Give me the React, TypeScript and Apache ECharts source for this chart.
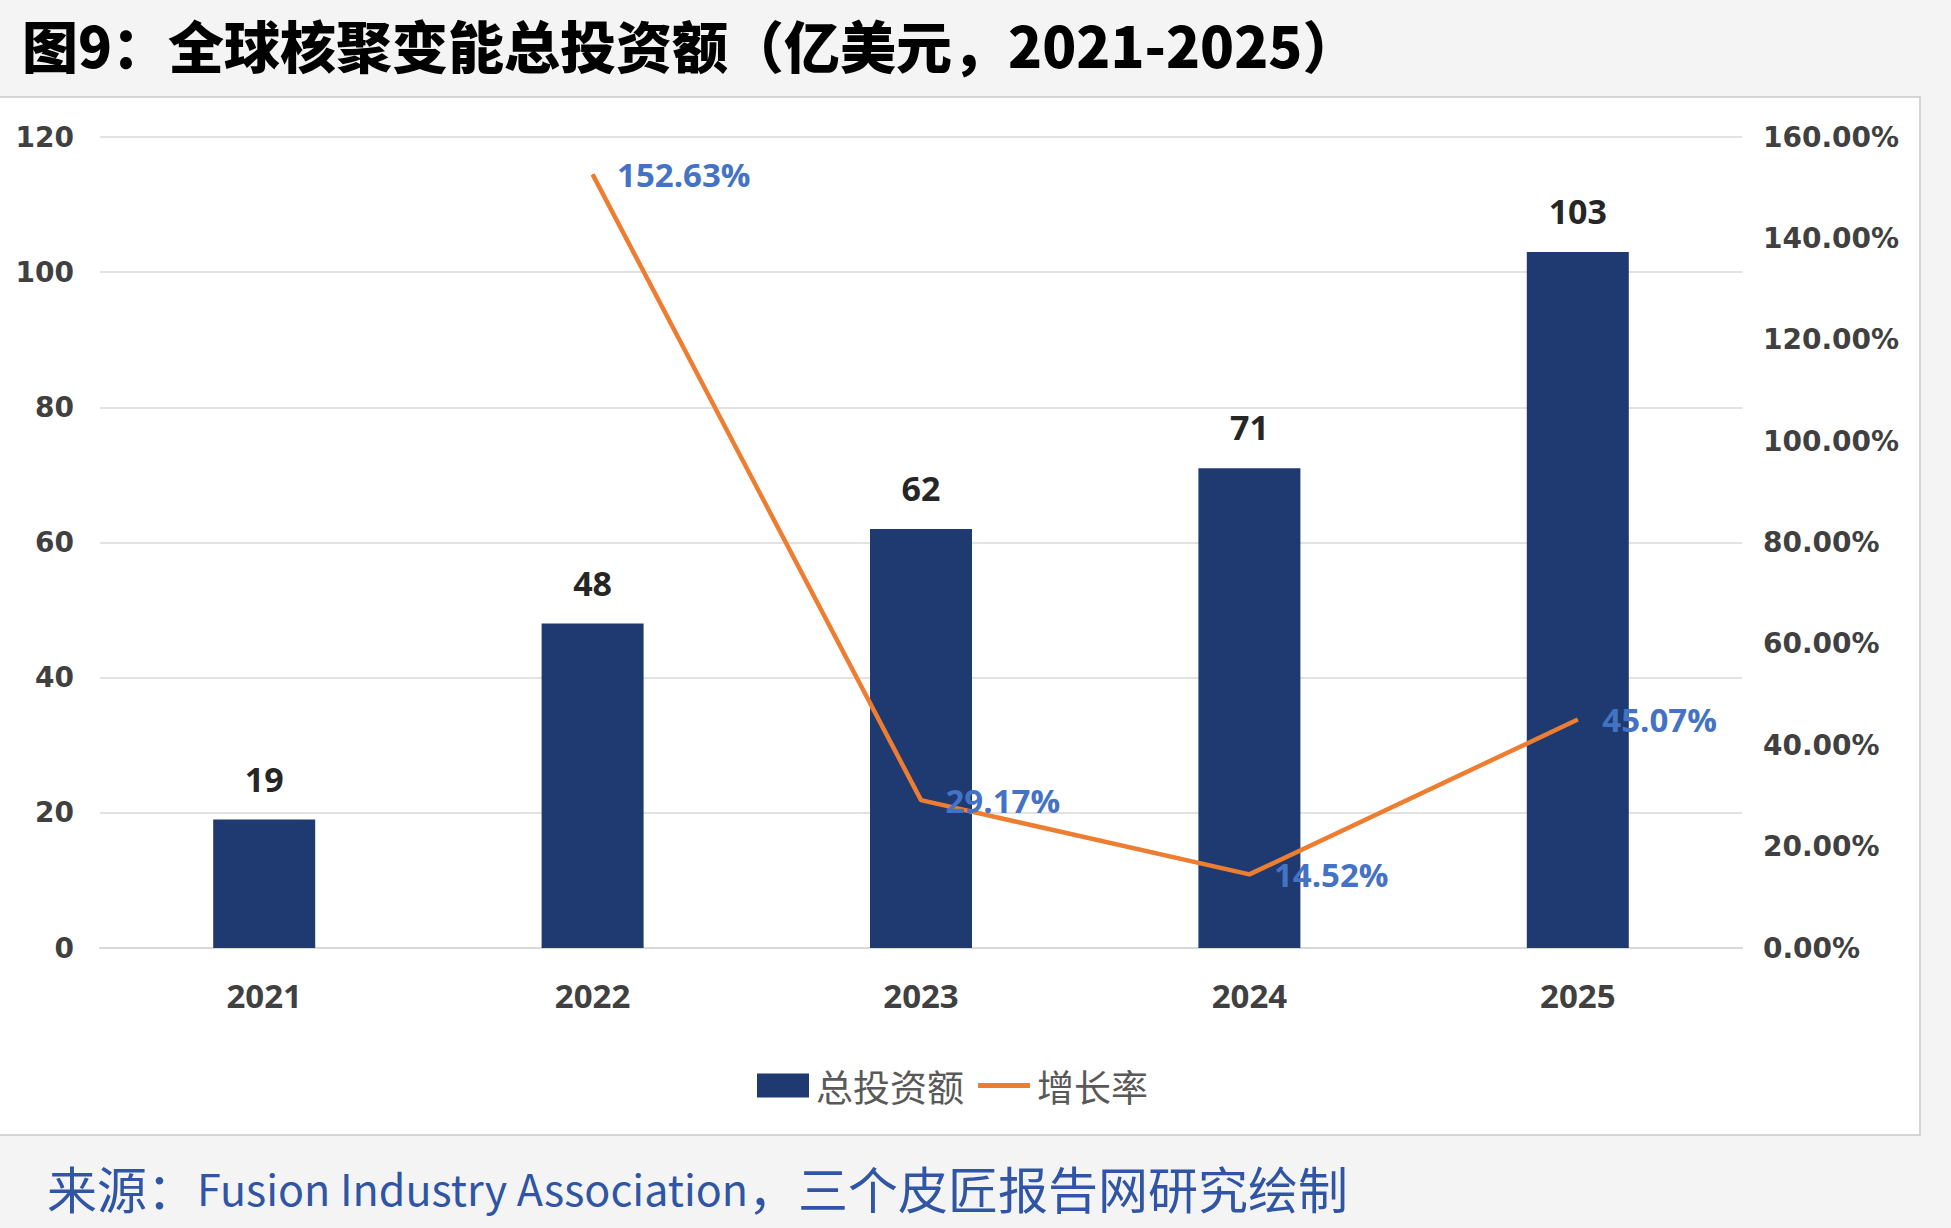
import React, { useEffect, useRef } from "react";
import * as echarts from "echarts";

// Fusion energy investment, 2021-2025
const years = ["2021", "2022", "2023", "2024", "2025"];
const investment = [19, 48, 62, 71, 103]; // 亿美元
const growth = [null, 152.63, 29.17, 14.52, 45.07]; // %

const leftTicks = { min: 0, max: 120, interval: 20 };
const rightTicks = { min: 0, max: 160, interval: 20 };

const titleText = "图9：全球核聚变能总投资额（亿美元，2021-2025）";
const sourceLead = "来源：";
const sourceOrg = "Fusion Industry Association";
const sourceTail = "，三个皮匠报告网研究绘制";

const W = 1951;
const H = 1228;

export default function App() {
  const ref = useRef<HTMLDivElement>(null);

  useEffect(() => {
    if (!ref.current) return;
    const chart = echarts.init(ref.current, null, { renderer: "svg" });
    const axisFont = {
      fontFamily: "DejaVu Sans",
      fontWeight: "bold" as const,
      fontSize: 28,
      color: "#404040",
    };
    const calloutFont = {
      fontFamily: "Open Sans",
      fontWeight: "bold" as const,
      fontSize: 33,
    };
    chart.setOption({
      animation: false,
      backgroundColor: "#f4f4f4",
      graphic: [
        {
          type: "rect",
          z: -10,
          shape: { x: -2, y: 97, width: 1922, height: 1038 },
          style: { fill: "#ffffff", stroke: "#d4d4d4", lineWidth: 2 },
        },
        {
          type: "text",
          left: 22,
          top: 12,
          style: {
            text: titleText,
            fontFamily: "Noto Sans CJK SC",
            fontWeight: 900,
            fontSize: 56,
            lineHeight: 62,
            fill: "#000000",
          },
        },
        {
          type: "text",
          left: 47,
          top: 1162,
          style: {
            text: `{c|${sourceLead}}{l|${sourceOrg}}{c|${sourceTail}}`,
            fill: "#2f55a4",
            rich: {
              c: {
                fontFamily: "Noto Sans CJK SC",
                fontSize: 50,
                fill: "#2f55a4",
              },
              l: {
                fontFamily: "Noto Sans CJK SC",
                fontSize: 43,
                fill: "#2f55a4",
              },
            },
          },
        },
      ],
      legend: {
        left: 752,
        top: 1062,
        itemWidth: 52,
        itemHeight: 24,
        itemGap: 14,
        symbolKeepAspect: true,
        textStyle: {
          fontFamily: "Noto Sans CJK SC",
          fontSize: 37,
          color: "#595959",
          padding: [0, 0, 0, 2],
        },
        data: [
          { name: "总投资额", icon: "rect" },
          { name: "增长率", icon: "path://M0,0H52V5H0Z" },
        ],
      },
      grid: { left: 100, right: 209, top: 137, bottom: 280 },
      xAxis: {
        type: "category",
        data: years,
        axisTick: { show: false },
        axisLine: { lineStyle: { color: "#d9d9d9", width: 2 } },
        axisLabel: {
          ...calloutFont,
          margin: 31,
          color: "#404040",
        },
      },
      yAxis: [
        {
          type: "value",
          ...leftTicks,
          axisLine: { show: false },
          axisTick: { show: false },
          splitLine: { lineStyle: { color: "#d9d9d9", width: 1.5 } },
          axisLabel: { ...axisFont, margin: 26 },
        },
        {
          type: "value",
          ...rightTicks,
          position: "right",
          axisLine: { show: false },
          axisTick: { show: false },
          splitLine: { show: false },
          axisLabel: {
            ...axisFont,
            margin: 21,
            formatter: (v: number) => v.toFixed(2) + "%",
          },
        },
      ],
      series: [
        {
          name: "总投资额",
          type: "bar",
          data: investment,
          barWidth: 102,
          itemStyle: { color: "#1f3a70" },
          label: {
            show: true,
            position: "top",
            distance: 24,
            ...calloutFont,
            fontSize: 34,
            color: "#262626",
          },
        },
        {
          name: "增长率",
          type: "line",
          yAxisIndex: 1,
          data: growth,
          symbol: "circle",
          symbolSize: 1,
          showSymbol: true,
          connectNulls: false,
          lineStyle: { color: "#ed7d31", width: 4.5 },
          itemStyle: { color: "#ed7d31" },
          label: {
            show: true,
            position: "right",
            distance: 24,
            ...calloutFont,
            color: "#4472c4",
            formatter: (p: any) => Number(p.value).toFixed(2) + "%",
          },
          z: 3,
        },
      ],
    });
    return () => chart.dispose();
  }, []);

  return (
    <div
      ref={ref}
      style={{ position: "absolute", left: 0, top: 0, width: W, height: H }}
    />
  );
}
